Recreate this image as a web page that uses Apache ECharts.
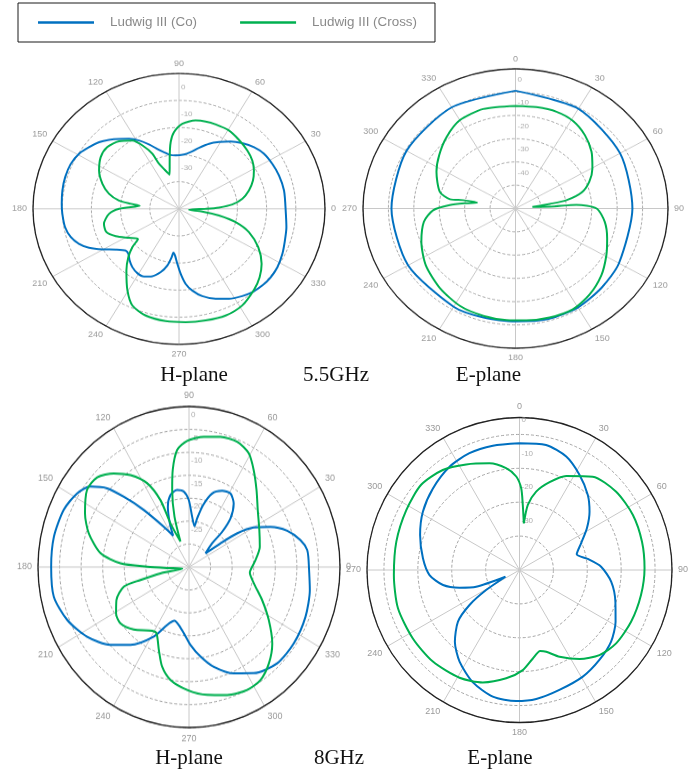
<!DOCTYPE html>
<html>
<head>
<meta charset="utf-8">
<script src="https://cdn.jsdelivr.net/npm/echarts@6/dist/echarts.min.js"></script>
<style>
  html, body { margin: 0; padding: 0; overflow: hidden; background: #fff; width: 690px; height: 774px; }
  .layer { position: absolute; left: 0; top: 0; width: 690px; height: 774px; }
</style>
</head>
<body>
<div id="base" class="layer"></div>
<div id="p1" class="layer"></div>
<div id="p2" class="layer"></div>
<div id="p3" class="layer"></div>
<script>
// ---------------- data (gain in dB, angle in degrees) ----------------
const seriesNames = ['Ludwig III (Co)', 'Ludwig III (Cross)'];

// 5.5 GHz, H-plane (angle counter-clockwise, 0° at right)
const h55CoAngle = [0,10.7,19.8,27.5,34.9,41.5,48.2,54.6,60.9,66.8,73.1,79.2,85.1,93.3,99.7,103.8,108.5,113.4,118.5,123.5,128.5,133.3,138.1,143.6,149.3,155.9,163.3,170.4,177.4,182.6,189.8,195.7,200.7,205,209.7,214.7,220.1,223.7,228.5,233.4,239,244.4,249.8,255,259.2,262,263.2,265.5,268.4,271.4,274.7,278.6,283.9,290.7,297.3,303.9,309.2,315.3,321.2,327.4,334.9,342.2,349.6,360];
const h55CoGain  = [-8.5,-8.4,-8.6,-9.0,-9.5,-10.7,-12.5,-14.5,-16.8,-18.9,-21.5,-23.7,-24.9,-25.3,-24.7,-23.5,-21.7,-19.1,-16.3,-14.0,-12.0,-10.0,-8.2,-6.7,-5.2,-4.4,-4.3,-4.5,-4.8,-5.0,-5.4,-6.5,-8.4,-11.0,-14.8,-18.6,-21.1,-21.0,-19.5,-18.2,-17.3,-17.3,-18.5,-20.8,-23.7,-27.0,-28.7,-27.7,-24.7,-21.0,-17.2,-14.5,-11.8,-9.5,-7.6,-6.2,-5.3,-4.8,-4.7,-5.0,-5.9,-6.9,-7.6,-8.5];
const h55XAngle  = [0,2,5,9.7,15.8,22.4,28.9,35.4,42.6,51.1,59.4,68,74.2,80.1,87.9,93.5,96.6,99.5,104.3,112.4,114.2,117.5,122.4,129.5,137.2,144.6,152.7,160.6,167,171.5,173.6,175.3,180,184.4,192.2,199.1,204.9,212,218.3,221.5,225.8,231.6,239.6,245.9,253.8,263.7,273.1,282.5,292.1,301.3,310.7,317.6,324.4,332.5,340.2,345.8,349.8,353,353.8,358.8,360];
const h55XGain   = [-35.9,-31.3,-26.7,-23.0,-20.1,-17.6,-15.7,-14.2,-13.2,-12.3,-11.4,-11.4,-11.5,-11.9,-13.6,-16.7,-20.2,-25.7,-32.0,-27.0,-22.7,-19.1,-15.2,-12.7,-11.5,-12.1,-14.2,-17.2,-20.4,-24.2,-28.4,-31.5,-24.5,-21.0,-18.7,-18.7,-21.1,-24.8,-27.1,-23.7,-20.1,-16.0,-10.1,-5.9,-4.0,-3.3,-3.1,-2.8,-2.5,-3.3,-5.6,-7.6,-10.2,-14.4,-19.5,-25.0,-31.1,-37.0,-41.6,-39.3,-35.9];
const h55Ticks   = [0, -10, -20, -30];

// 5.5 GHz, E-plane (angle clockwise, 0° at top)
const e55CoAngle = [0,30,60,90,120,135,150,165,180,195,210,240,270,300,330,360];
const e55CoGain  = [-4.4,-5.5,-7.5,-9.0,-8.0,-7.0,-5.9,-5.8,-6.5,-6.5,-6.3,-6.2,-6.2,-5.5,-4.8,-4.4];
const e55XAngle  = [0,10.7,21.2,31.1,40.9,50.8,60.4,68.4,75.2,79.9,81.6,83.9,86.7,86.2,90,99.3,109.7,119.3,130.3,141.9,152.6,164.1,174.9,184.2,195.3,207.4,220.9,235.3,248.9,261,268.7,273.2,276.8,279.7,279.9,278.8,283.5,297,307.4,318.7,330,343.4,360];
const e55XGain   = [-10.9,-10.7,-10.4,-11.1,-13.3,-16.4,-20.2,-23.8,-28.1,-34.6,-41.3,-48.3,-41.5,-31,-23.1,-19.4,-16.7,-14.0,-10.7,-7.9,-6.2,-6.3,-6.8,-7.0,-7.2,-7.8,-9.7,-12.1,-15.3,-18.5,-22.6,-29.1,-35.6,-39.7,-34.1,-28.9,-24.4,-20.1,-17.2,-14,-11.2,-10.4,-10.9];
const e55Ticks   = [0, -10, -20, -30, -40];

// 8 GHz, H-plane (angle counter-clockwise, 0° at right)
const h8CoAngle = [0,7.7,12.8,19.2,24.9,29.9,33.3,35.3,37.9,43.9,45,47.8,53.2,59.1,65.2,71.5,76.4,79.9,81.9,86.2,90.2,94.2,99.3,105.3,110.5,115,118.3,123.6,130.1,134.6,137.9,142.5,148.2,156.8,168.1,179.9,191.7,202.2,212.8,223,231.4,241.8,248.2,254,259.4,265.3,271.2,277.8,284.8,294.1,303,314.2,325.6,338.1,349.9,360];
const h8CoGain  = [-4.7,-4.85,-6.0,-8.4,-11.7,-15.2,-19.1,-23.6,-27.65,-25.05,-21.6,-18.2,-15.2,-13.8,-14.2,-15.6,-18.6,-21.7,-23.5,-21.5,-17.9,-16.0,-15.5,-16.2,-18.5,-22.0,-24.75,-22.0,-16.25,-11.0,-6.9,-3.7,-2.0,-0.9,-0.5,-0.55,-0.5,-2.0,-4.4,-7.6,-10.75,-15.3,-18.9,-20.3,-19.6,-18.0,-15.5,-12.8,-10.0,-7.1,-4.9,-3.2,-3.05,-3.4,-4.05,-4.7];
const h8XAngle  = [0,5.7,15.1,26.4,37.9,47,54.6,60.8,67.8,75.6,83.1,90.9,96.1,100.1,103.1,107,109.6,114.3,114.4,118,124.1,130.5,137.4,144.6,154.1,162.5,171.7,177.1,179.6,182.5,193,191.8,194.1,195.8,203.2,210.9,217.7,226.7,238.4,242.5,248.9,254,260.1,269.1,278.6,287.6,296.7,303.9,311.4,319.2,328,337,346.7,355,360];
const h8XGain   = [-17.9,-17.0,-15.5,-14.3,-12.3,-9.55,-6.6,-4.1,-3.0,-3.2,-3.9,-5.0,-6.8,-11.0,-15.3,-21.0,-26.6,-22.1,-16.5,-11.8,-8.3,-5.65,-3.6,-3.5,-5.7,-8.15,-11.8,-16.6,-22.8,-27.4,-30.9,-25.75,-20.9,-16.8,-14.2,-12.8,-12.4,-13.8,-16.2,-16.2,-13.1,-9.9,-7.5,-5.7,-4.3,-3.2,-2.5,-2.8,-4.5,-7.0,-10.7,-14.1,-17.05,-18.35,-17.9];
const h8Ticks   = [0, -5, -10, -15, -20, -25];

// 8 GHz, E-plane (angle clockwise, 0° at top)
const e8CoAngle = [0,12,22.4,32.2,42.3,50.2,58.2,66.6,74.7,80.8,87.7,97.3,108.3,118.3,128,138.4,149.3,161.6,172.6,181.5,191.9,202.5,213.2,222,230,235,239,244.5,248.9,253.6,258.9,266.8,276.9,289.4,301.1,313.3,325.9,336.8,347.9,360];
const e8CoGain  = [-7.6,-7.3,-8.8,-11.8,-15.05,-18.1,-21.6,-25.2,-27.5,-24.6,-20.9,-17.7,-15.2,-12.8,-10.7,-9.5,-8.4,-7.7,-6.6,-6.3,-6.8,-9.1,-12.7,-16.5,-21.3,-27.0,-33.5,-40.4,-31.3,-26.55,-22.0,-18.4,-16.3,-13.9,-11.7,-9.9,-8.2,-7.5,-7.5,-7.6];
const e8XAngle  = [5.3,7.3,12,18.9,26.4,38.1,51,64.1,77,89.2,101.6,114.9,127.2,136.8,146,155.2,161.9,165.7,171.4,178.1,187,198.1,209.1,223.4,237.3,252.5,267.7,283,297.9,310.9,322.5,333.2,344.3,352.5,358,1.2,2.9,5.3];
const e8XGain   = [-31.2,-25.65,-21.35,-17.6,-14.0,-10.0,-8.3,-7.8,-7.9,-8.1,-8.4,-8.7,-9.2,-10.55,-13.3,-16.8,-19.6,-20.3,-18.6,-15.45,-12.8,-10.1,-8.6,-7.8,-7.6,-7.4,-7.9,-7.7,-7.2,-6.6,-7.8,-10.1,-12.3,-14.7,-17.4,-20.9,-25.8,-31.2];
const e8Ticks   = [0, -10, -20, -30];

// ---------------- layout & style ----------------
const COLORS = ['#0070c0', '#00b050'];
const GREY_TEXT = '#9a9a9a';

const panels = [
  { el: 'p1', cx: 179,   cy: 208.8, r: 146,   sy: 0.928, min: -45,   max: 5,   step: 10, start: 0,  cw: false, tickAngle: 90,
    co: [h55CoAngle, h55CoGain], cross: [h55XAngle, h55XGain], ticks: h55Ticks, tickDy: 0 },
  { el: 'p2', cx: 515.5, cy: 208.5, r: 152.5, sy: 0.916, min: -55,   max: 5,   step: 10, start: 90, cw: true,  tickAngle: 0,
    co: [e55CoAngle, e55CoGain], cross: [e55XAngle, e55XGain], ticks: e55Ticks, tickDy: -1 },
  { el: 'p3', cx: 189,   cy: 567,   r: 151,   sy: 1.063, min: -32.5, max: 2.5, step: 5,  start: 0,  cw: false, tickAngle: 90,
    co: [h8CoAngle, h8CoGain], cross: [h8XAngle, h8XGain], ticks: h8Ticks, tickDy: -3 },
  { el: 'base', cx: 519.5, cy: 570, r: 152.5, sy: 1, min: -45,   max: 0,   step: 10, start: 90, cw: true,  tickAngle: 0,
    co: [e8CoAngle, e8CoGain], cross: [e8XAngle, e8XGain], ticks: e8Ticks, tickDy: 2 }
];

const captions = [
  { text: 'H-plane', x: 194,   y: 375.5 },
  { text: '5.5GHz',  x: 336,   y: 375.5 },
  { text: 'E-plane', x: 488.5, y: 375.5 },
  { text: 'H-plane', x: 189,   y: 758.5 },
  { text: '8GHz',    x: 339,   y: 758.5 },
  { text: 'E-plane', x: 500,   y: 758.5 }
];

function patternSeries(name, angles, gains, color) {
  return {
    name: name,
    type: 'line',
    coordinateSystem: 'polar',
    polarIndex: 0,
    showSymbol: false,
    smooth: 0.25,
    silent: true,
    lineStyle: { color: color, width: 2 },
    itemStyle: { color: color },
    data: angles.map((a, i) => [gains[i], a])
  };
}

function panelOption(p) {
  return {
    animation: false,
    textStyle: { fontFamily: 'Liberation Sans, Arial, sans-serif' },
    polar: [{ center: [p.cx, p.cy], radius: p.r }],
    angleAxis: [{
      type: 'value', polarIndex: 0, min: 0, max: 360, interval: 30,
      startAngle: p.start, clockwise: p.cw,
      axisLine: { show: true, lineStyle: { color: '#222', width: 1.3 } },
      axisTick: { show: false },
      axisLabel: { color: GREY_TEXT, fontSize: 9, margin: 6, formatter: v => (v === 360 ? '' : String(v)) },
      splitLine: { show: true, lineStyle: { color: '#c8c8c8', width: 1 } }
    }],
    radiusAxis: [{
      type: 'value', polarIndex: 0, min: p.min, max: p.max, interval: p.step,
      axisLine: { show: false }, axisTick: { show: false }, axisLabel: { show: false },
      splitLine: { show: true, lineStyle: { color: '#9c9c9c', width: 0.9, type: [3, 2] } }
    }],
    series: [
      patternSeries(seriesNames[0], p.co[0], p.co[1], COLORS[0]),
      patternSeries(seriesNames[1], p.cross[0], p.cross[1], COLORS[1]),
      {
        name: 'radial ticks', type: 'scatter', coordinateSystem: 'polar', polarIndex: 0,
        silent: true, symbolSize: 0, z: 1,
        data: p.ticks.map(t => [t, p.tickAngle]),
        label: {
          show: true, position: 'right', distance: 2, offset: [0, p.tickDy],
          color: GREY_TEXT, fontSize: 8,
          formatter: d => String(d.value[0])
        }
      }
    ]
  };
}

panels.forEach(p => {
  const el = document.getElementById(p.el);
  if (p.sy !== 1) {
    el.style.transformOrigin = p.cx + 'px ' + p.cy + 'px';
    el.style.transform = 'scaleY(' + p.sy + ')';
  }
  const chart = echarts.init(el, null, { renderer: 'canvas' });
  const opt = panelOption(p);
  if (p.el === 'base') {
    opt.legend = {
      data: seriesNames, left: 18, top: 3, orient: 'horizontal', selectedMode: false,
      icon: 'rect', itemWidth: 56, itemHeight: 2.5, itemGap: 43,
      padding: [13, 18, 13, 20], borderColor: '#1a1a1a', borderWidth: 1, borderRadius: 0,
      textStyle: { color: '#8a8a8a', fontSize: 13.4, padding: [0, 0, 0, 11] }
    };
    opt.graphic = captions.map(c => ({
      type: 'text', x: c.x, y: c.y, silent: true,
      style: { text: c.text, font: '21px "Liberation Serif", "Times New Roman", serif', fill: '#111', align: 'center', verticalAlign: 'middle' }
    }));
  }
  chart.setOption(opt);
});
</script>
</body>
</html>
